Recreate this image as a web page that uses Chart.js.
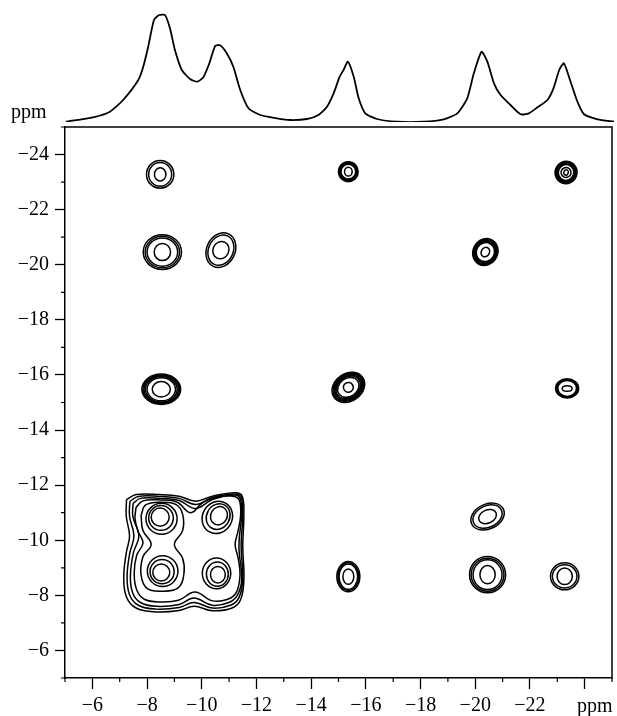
<!DOCTYPE html>
<html><head><meta charset="utf-8">
<script src="https://cdn.jsdelivr.net/npm/chart.js@4.4.1/dist/chart.umd.min.js"></script>
<style>
html,body{margin:0;padding:0;background:#fff;}
#wrap{position:relative;width:617px;height:716px;overflow:hidden;}
canvas{position:absolute;left:0;top:0;}
.lbl{position:absolute;font-family:'Liberation Serif','Times New Roman',serif;font-size:20px;color:#000;line-height:1;white-space:nowrap;}
</style></head><body>
<div id="wrap">
<canvas id="main" width="617" height="716" style="width:617px;height:716px"></canvas>
<canvas id="spec" width="617" height="127" style="width:617px;height:127px"></canvas>
<div class="lbl" style="left:11px;top:101px;">ppm</div>
<div class="lbl" style="left:577px;top:695px;">ppm</div>
</div>
<script>
// ---- tick labels (ppm) ----
const xTickLabels = [-6, -8, -10, -12, -14, -16, -18, -20, -22];
const yTickLabels = [-6, -8, -10, -12, -14, -16, -18, -20, -22, -24];

// ---- 1D projection (top trace) ----
const specX = [-5.03,-6.02,-6.63,-7.11,-7.66,-7.84,-8.02,-8.23,-8.42,-8.63,-8.81,-8.99,-9.24,-9.54,-9.80,-10.02,-10.24,-10.45,-10.63,-10.87,-11.11,-11.36,-11.66,-12.08,-12.69,-13.17,-13.78,-14.20,-14.51,-14.75,-14.97,-15.11,-15.27,-15.48,-15.66,-15.90,-16.33,-17.05,-18.02,-18.75,-19.24,-19.60,-19.84,-20.12,-20.33,-20.57,-20.81,-21.17,-21.54,-21.84,-22.15,-22.51,-22.73,-22.94,-23.11,-23.33,-23.60,-23.84,-24.33,-24.93];
const specY = [0.3,4.7,10.3,22,42,55.3,75.3,102,107,107,93.7,72,52,43,40.3,44.7,58.7,76,76.7,68.7,55.3,32,13.7,7,3.7,2,3,7,15.3,28.7,45.3,52,60.3,45.3,23.7,8.7,3,0.3,0.3,2.7,8.7,23.7,48.7,70.3,60.3,38.7,27,17,7.7,8.7,14.7,22,33.7,52,58.7,42,20.3,7.7,2.7,0.3];

// ---- cross peaks: centre (ppm), tilt (deg), contour rings [rx, ry, dx, dy] (ppm) ----
const peakX = [-8.48, -8.56, -10.70, -15.36, -23.32, -20.37, -8.52, -15.36, -23.36, -20.45, -20.45, -23.27, -15.36, -8.48, -10.63, -8.52, -10.59];
const peakY = [-23.28, -20.46, -20.53, -23.38, -23.35, -20.46, -15.48, -15.55, -15.51, -10.86, -8.75, -8.69, -8.68, -10.84, -10.89, -8.83, -8.75];
const peakRot = [0, 0, 25, 0, 20, 30, 0, -35, 0, -25, 0, 0, 0, 0, 30, 0, 0];
const peakRings = [
  [[0.50,0.50],[0.42,0.43],[0.21,0.24]],
  [[0.70,0.63],[0.63,0.57],[0.56,0.51],[0.30,0.31]],
  [[0.52,0.65],[0.45,0.57],[0.29,0.32]],
  [[0.36,0.36],[0.33,0.33],[0.30,0.30],[0.27,0.27],[0.14,0.16]],
  [[0.40,0.41],[0.37,0.38],[0.34,0.35],[0.31,0.32],[0.28,0.29],[0.18,0.18],[0.08,0.10]],
  [[0.45,0.50],[0.42,0.47],[0.39,0.43],[0.36,0.39],[0.33,0.35],[0.15,0.18]],
  [[0.71,0.55],[0.67,0.52],[0.63,0.49],[0.58,0.46],[0.52,0.42],[0.33,0.28]],
  [[0.64,0.50],[0.60,0.46],[0.56,0.43],[0.52,0.40],[0.48,0.37],[0.42,0.33],[0.18,0.18]],
  [[0.42,0.35],[0.38,0.32],[0.34,0.29],[0.18,0.10]],
  [[0.64,0.45],[0.56,0.39],[0.34,0.24]],
  [[0.66,0.66],[0.60,0.60],[0.53,0.54],[0.28,0.33]],
  [[0.52,0.49],[0.45,0.42],[0.28,0.30]],
  [[0.42,0.55],[0.38,0.50],[0.34,0.46],[0.20,0.28]],
  [[0.33,0.33],[0.45,0.45,-0.03,0.03],[0.57,0.56,-0.05,0.06]],
  [[0.30,0.34],[0.42,0.48,0.03,0.03],[0.54,0.60,0.06,0.06]],
  [[0.31,0.31],[0.44,0.44,-0.03,-0.03],[0.56,0.56,-0.05,-0.05]],
  [[0.27,0.30],[0.40,0.44,0.02,-0.02],[0.52,0.56,0.05,-0.05]]
];

// ---- merged contours of the (-8..-11, -8..-11) cluster, read as outlines (ppm) ----
const clusterX = [
  [-7.25,-7.61,-8.45,-9.17,-9.78,-10.39,-11.24,-11.48,-11.54,-11.50,-11.54,-11.42,-11.11,-10.39,-9.72,-9.17,-8.33,-7.60,-7.24,-7.15,-7.24,-7.36,-7.24],
  [-7.37,-7.68,-8.45,-9.17,-9.78,-10.39,-11.22,-11.44,-11.50,-11.44,-11.50,-11.36,-11.05,-10.39,-9.72,-9.17,-8.33,-7.68,-7.36,-7.27,-7.37,-7.52,-7.36],
  [-7.49,-7.76,-8.45,-9.17,-9.78,-10.39,-11.20,-11.40,-11.46,-11.36,-11.46,-11.30,-10.99,-10.39,-9.72,-9.17,-8.33,-7.76,-7.48,-7.39,-7.50,-7.70,-7.48],
  [-7.60,-7.85,-8.50,-9.10,-9.60,-10.05,-10.60,-11.15,-11.37,-11.42,-11.32,-11.22,-11.33,-11.40,-11.27,-10.95,-10.40,-9.75,-9.15,-8.50,-7.90,-7.62,-7.53,-7.62,-7.85,-7.66,-7.56],
  [-7.78,-7.95,-8.50,-9.05,-9.30,-9.30,-9.00,-9.30,-9.35,-9.15,-8.55,-8.00,-7.78,-7.85,-8.15,-7.85]
];
const clusterY = [
  [-11.48,-11.66,-11.66,-11.60,-11.42,-11.60,-11.72,-11.60,-11.00,-9.78,-8.57,-7.84,-7.54,-7.44,-7.60,-7.45,-7.40,-7.54,-7.96,-8.69,-9.54,-10.15,-10.87],
  [-11.41,-11.59,-11.59,-11.52,-11.30,-11.55,-11.68,-11.57,-11.00,-9.78,-8.57,-7.92,-7.64,-7.54,-7.74,-7.56,-7.50,-7.64,-8.02,-8.69,-9.54,-10.15,-10.87],
  [-11.34,-11.52,-11.52,-11.44,-11.15,-11.48,-11.64,-11.53,-11.00,-9.78,-8.57,-8.00,-7.74,-7.64,-7.90,-7.67,-7.60,-7.74,-8.08,-8.69,-9.54,-10.15,-10.87],
  [-11.20,-11.43,-11.46,-11.38,-11.00,-11.38,-11.57,-11.60,-11.46,-10.90,-10.30,-9.85,-9.35,-8.75,-8.12,-7.86,-7.80,-8.12,-7.82,-7.76,-7.86,-8.20,-8.80,-9.45,-9.90,-10.35,-10.80],
  [-10.90,-11.28,-11.38,-11.30,-10.95,-10.35,-9.85,-9.35,-8.80,-8.28,-8.15,-8.25,-8.75,-9.40,-9.85,-10.35]
];

const FONT = {family: "'Liberation Serif','Times New Roman',serif", size: 20};
const fmt = v => (v < 0 ? '\u2212' : '') + Math.abs(v);

const clusterSets = clusterX.map((xs, i) => {
  const pts = xs.map((x, j) => ({x, y: clusterY[i][j]}));
  pts.push(pts[0]);
  return {data: pts, showLine: true, tension: 0.4, pointRadius: 0, borderColor: '#000', borderWidth: 1.5, fill: false};
});

const contourPlugin = {
  id: 'contours',
  afterDatasetsDraw(chart) {
    const {ctx, chartArea: a, scales: {x, y}} = chart;
    ctx.save();
    ctx.beginPath(); ctx.rect(a.left, a.top, a.right - a.left, a.bottom - a.top); ctx.clip();
    ctx.strokeStyle = '#000'; ctx.lineWidth = 1.5;
    peakX.forEach((cx0, i) => {
      peakRings[i].forEach(([rx, ry, dx = 0, dy = 0]) => {
        const cx = cx0 + dx, cy = peakY[i] + dy;
        const px = x.getPixelForValue(cx), py = y.getPixelForValue(cy);
        const rxp = Math.abs(x.getPixelForValue(cx + rx) - px);
        const ryp = Math.abs(y.getPixelForValue(cy + ry) - py);
        ctx.beginPath();
        ctx.ellipse(px, py, rxp, ryp, peakRot[i] * Math.PI / 180, 0, 2 * Math.PI);
        ctx.stroke();
      });
    });
    ctx.restore();
  }
};

const framePlugin = {
  id: 'frame',
  afterDraw(chart) {
    const {ctx, chartArea: a, scales: {x, y}} = chart;
    ctx.save();
    ctx.strokeStyle = '#000'; ctx.lineWidth = 1.5;
    ctx.beginPath();
    ctx.moveTo(a.left, a.top); ctx.lineTo(a.right, a.top); ctx.lineTo(a.right, a.bottom);
    ctx.stroke();
    ctx.lineWidth = 1.2;
    ctx.beginPath();
    for (let v = -25; v <= -5; v++) {
      if (v % 2 === 0) continue;
      const xp = x.getPixelForValue(v);
      ctx.moveTo(xp, a.bottom); ctx.lineTo(xp, a.bottom + 4);
      const yp = y.getPixelForValue(v);
      ctx.moveTo(a.left, yp); ctx.lineTo(a.left - 4, yp);
    }
    ctx.stroke();
    ctx.restore();
  }
};

const majorColor = c => (c.tick && c.tick.value % 2 === 0) ? '#000' : 'rgba(0,0,0,0)';

new Chart(document.getElementById('main'), {
  type: 'scatter',
  data: {datasets: clusterSets},
  options: {
    responsive: false, animation: false, devicePixelRatio: 1,
    layout: {padding: {top: 127, right: 1, left: 0, bottom: 0}},
    plugins: {legend: {display: false}, tooltip: {enabled: false}},
    scales: {
      x: {
        type: 'linear', min: -25, max: -5, reverse: true,
        afterFit: s => { s.height = 38; },
        border: {display: true, color: '#000', width: 1.5},
        grid: {drawOnChartArea: false, drawTicks: true, tickLength: 11, tickWidth: 1.3, tickColor: majorColor},
        ticks: {stepSize: 1, autoSkip: false, maxRotation: 0, padding: 5, color: '#000', font: FONT,
          callback: v => xTickLabels.includes(v) ? fmt(v) : ''}
      },
      y: {
        type: 'linear', min: -25, max: -5, reverse: true,
        afterFit: s => { s.width = 65; },
        border: {display: true, color: '#000', width: 1.5},
        grid: {drawOnChartArea: false, drawTicks: true, tickLength: 10, tickWidth: 1.3, tickColor: majorColor},
        ticks: {stepSize: 1, autoSkip: false, padding: 6, color: '#000', font: FONT,
          callback: v => yTickLabels.includes(v) ? fmt(v) : ''}
      }
    }
  },
  plugins: [contourPlugin, framePlugin]
});

new Chart(document.getElementById('spec'), {
  type: 'scatter',
  data: {datasets: [{data: specX.map((x, i) => ({x, y: specY[i]})), showLine: true, tension: 0.2,
    pointRadius: 0, borderColor: '#000', borderWidth: 1.8, fill: false}]},
  options: {
    responsive: false, animation: false, devicePixelRatio: 1,
    layout: {padding: {top: 0, right: 1, left: 65, bottom: 5}},
    plugins: {legend: {display: false}, tooltip: {enabled: false}},
    scales: {
      x: {type: 'linear', min: -25, max: -5, reverse: true, display: false},
      y: {type: 'linear', min: 0, max: 122, display: false}
    }
  }
});
</script>
</body></html>
